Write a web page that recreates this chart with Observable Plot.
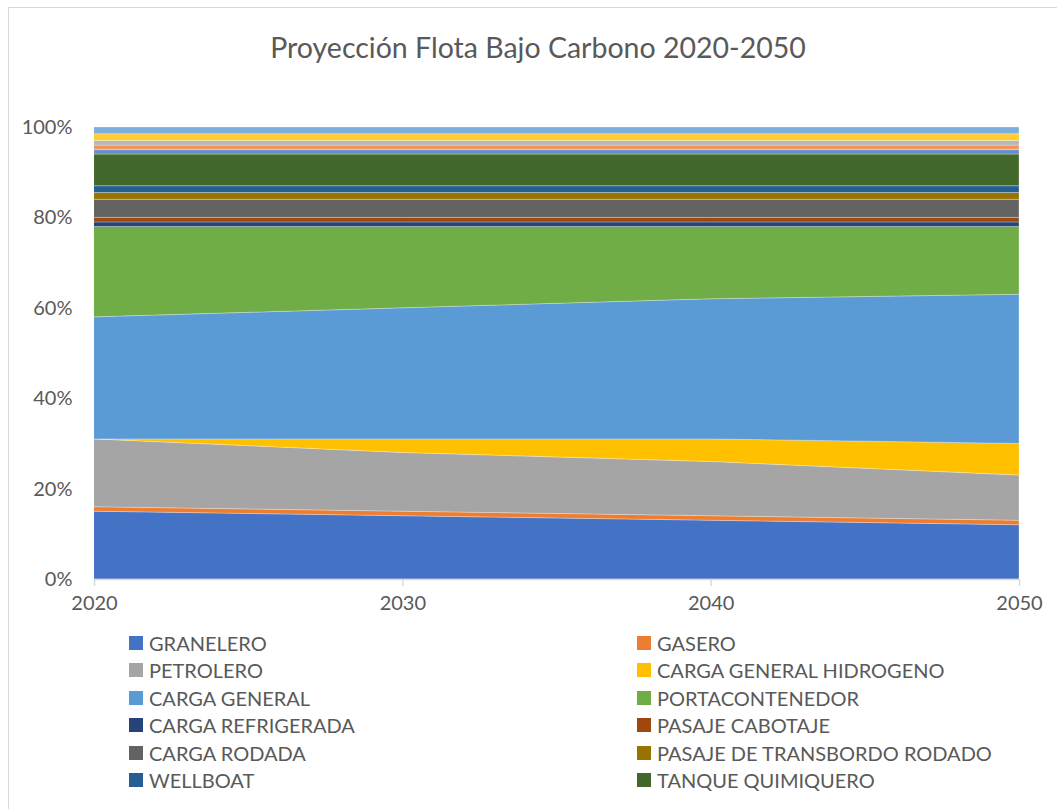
<!DOCTYPE html>
<html>
<head>
<meta charset="utf-8">
<script src="https://cdn.jsdelivr.net/npm/d3@7"></script>
<script src="https://cdn.jsdelivr.net/npm/@observablehq/plot@0.6"></script>
<style>
  html, body { margin: 0; padding: 0; background: #fff; }
  #frame { position: relative; width: 1057px; height: 809px; overflow: hidden; font-family: Lato, "Liberation Sans", sans-serif; color: #595959; }
  #border { position: absolute; left: 8px; top: 7px; width: 1060px; height: 820px; border: 1px solid #d9d9d9; box-sizing: border-box; }
  #title { position: absolute; left: 0; width: 1076px; top: 30px; text-align: center; font-size: 28.5px; font-weight: 400; }
  #chart { position: absolute; left: 0; top: 100px; }
  .leg { position: absolute; font-size: 20px; line-height: 20px; white-space: nowrap; }
  .leg span.sw { position: absolute; left: 0; top: 3px; width: 14px; height: 14px; }
  .leg span.tx { position: absolute; left: 20px; top: 0; }
</style>
</head>
<body>
<div id="frame">
  <div id="border"></div>
  <div id="title">Proyección Flota Bajo Carbono 2020-2050</div>
  <div id="chart"></div>
  <div id="legend"></div>
</div>
<script>
const years = [2020, 2030, 2040, 2050];
const series = [
  "GRANELERO", "GASERO", "PETROLERO", "CARGA GENERAL HIDROGENO", "CARGA GENERAL",
  "PORTACONTENEDOR", "CARGA REFRIGERADA", "PASAJE CABOTAJE", "CARGA RODADA",
  "PASAJE DE TRANSBORDO RODADO", "WELLBOAT", "TANQUE QUIMIQUERO",
  "SERIE 13", "SERIE 14", "SERIE 15", "SERIE 16", "SERIE 17"
];
const legendSeries = series.slice(0, 12);
const colors = [
  "#4472C4", "#ED7D31", "#A5A5A5", "#FFC000", "#5B9BD5", "#70AD47",
  "#264478", "#9E480E", "#636363", "#997300", "#255E91", "#43682B",
  "#698ED0", "#F1975A", "#B7B7B7", "#FFCD33", "#7CAFDD"
];
// percent share per year (2020, 2030, 2040, 2050)
const granelero = [15, 14, 13, 12];
const gasero = [1, 1, 1, 1];
const petrolero = [15, 13, 12, 10];
const cargaGeneralHidrogeno = [0, 3, 5, 7];
const cargaGeneral = [27, 29, 31, 33];
const portacontenedor = [20, 18, 16, 15];
const cargaRefrigerada = [1, 1, 1, 1];
const pasajeCabotaje = [1, 1, 1, 1];
const cargaRodada = [4, 4, 4, 4];
const pasajeTransbordo = [1.5, 1.5, 1.5, 1.5];
const wellboat = [1.5, 1.5, 1.5, 1.5];
const tanqueQuimiquero = [7, 7, 7, 7];
const serie13 = [1, 1, 1, 1];
const serie14 = [1, 1, 1, 1];
const serie15 = [1, 1, 1, 1];
const serie16 = [1.5, 1.5, 1.5, 1.5];
const serie17 = [1.5, 1.5, 1.5, 1.5];
const values = [granelero, gasero, petrolero, cargaGeneralHidrogeno, cargaGeneral,
  portacontenedor, cargaRefrigerada, pasajeCabotaje, cargaRodada, pasajeTransbordo,
  wellboat, tanqueQuimiquero, serie13, serie14, serie15, serie16, serie17];
const yTicks = [0, 20, 40, 60, 80, 100];

const data = [];
series.forEach((s, i) => years.forEach((y, j) => data.push({series: s, year: y, value: values[i][j]})));

const chart = Plot.plot({
  width: 1057,
  height: 530,
  marginLeft: 94,
  marginRight: 38,
  marginTop: 27,
  marginBottom: 51,
  style: {fontFamily: "Lato, 'Liberation Sans', sans-serif", fontSize: "20px", color: "#595959", background: "transparent"},
  x: {domain: [2020, 2050]},
  y: {domain: [0, 100]},
  color: {domain: series, range: colors},
  marks: [
    Plot.areaY(data, {x: "year", y: "value", fill: "series", stroke: "#ffffff", strokeOpacity: 0.35, strokeWidth: 0.8}),
    Plot.ruleY([0], {stroke: "#d9d9d9", strokeWidth: 1.5}),
    Plot.axisY({ticks: yTicks, tickSize: 0, tickPadding: 22, tickFormat: d => d + "%", label: null, fill: "#595959"}),
    Plot.axisX({ticks: years, tickSize: 7, tickPadding: 9, stroke: "#d9d9d9", strokeWidth: 1.5, tickFormat: d => String(d), label: null, fill: "#595959"})
  ]
});
document.getElementById("chart").appendChild(chart);

const legend = document.getElementById("legend");
const frame = document.getElementById("frame");
legendSeries.forEach((s, i) => {
  const col = i % 2, row = Math.floor(i / 2);
  const d = document.createElement("div");
  d.className = "leg";
  d.style.left = (col === 0 ? 129 : 637) + "px";
  d.style.top = (633 + row * 27.4) + "px";
  const sw = document.createElement("span");
  sw.className = "sw";
  sw.style.background = colors[series.indexOf(s)];
  const tx = document.createElement("span");
  tx.className = "tx";
  tx.textContent = s;
  d.appendChild(sw); d.appendChild(tx);
  frame.appendChild(d);
});
</script>
</body>
</html>
